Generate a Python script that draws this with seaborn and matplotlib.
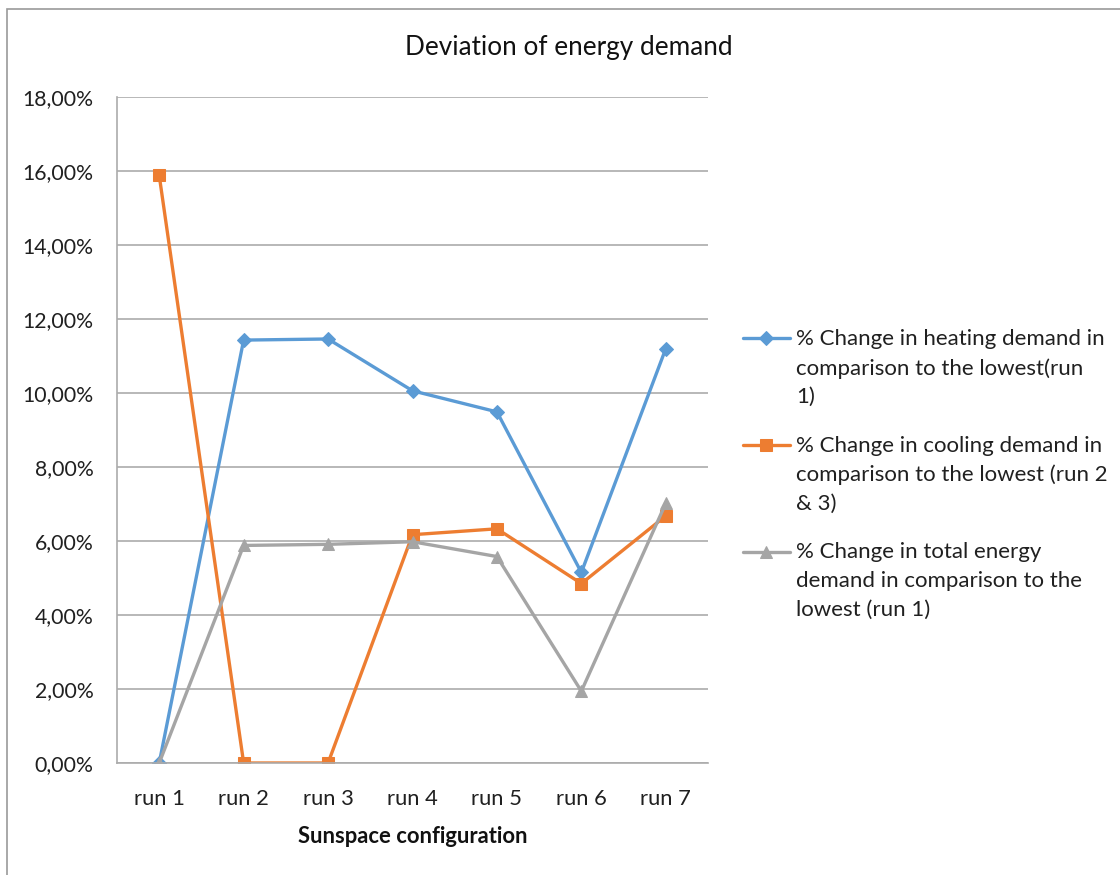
import matplotlib
matplotlib.use("Agg")
import matplotlib.pyplot as plt
import seaborn as sns
import pandas as pd
from matplotlib.ticker import FuncFormatter, MultipleLocator
from matplotlib.patches import Rectangle

# Sunspace configurations and percentage deviations
runs = ["run 1", "run 2", "run 3", "run 4", "run 5", "run 6", "run 7"]
heating = [0.00, 11.43, 11.46, 10.06, 9.49, 5.15, 11.20]
cooling = [15.88, 0.00, 0.00, 6.17, 6.33, 4.85, 6.68]
total = [0.00, 5.88, 5.91, 5.98, 5.58, 1.94, 7.02]

labels = [
    "% Change in heating demand in\ncomparison to the lowest(run\n1)",
    "% Change in cooling demand in\ncomparison to the lowest (run 2\n& 3)",
    "% Change in total energy\ndemand in comparison to the\nlowest (run 1)",
]
colors = ["#5B9BD5", "#ED7D31", "#A5A5A5"]
markers = ["D", "s", "^"]
msizes = [6.8, 8.0, 8.4]

sns.set_theme(style="white")
plt.rcParams["font.family"] = ["Lato", "DejaVu Sans"]

fig = plt.figure(figsize=(11.2, 8.75), dpi=100)
ax = fig.add_axes([117 / 1120, 1 - 763 / 875, (708 - 117) / 1120, (763 - 97) / 875])

df = pd.DataFrame({"run": runs, "heating": heating, "cooling": cooling, "total": total})
for col, lab, c, m, ms in zip(["heating", "cooling", "total"], labels, colors, markers, msizes):
    sns.lineplot(data=df, x="run", y=col, ax=ax, color=c, marker=m, markersize=ms,
                 markeredgecolor=c, linewidth=2.4, sort=False, label=lab)

ax.set_xlim(-0.5, 6.5)
ax.set_ylim(0, 18)
ax.yaxis.set_major_locator(MultipleLocator(2))
ax.yaxis.set_major_formatter(FuncFormatter(lambda v, p: f"{v:.2f}%".replace(".", ",")))

grid_c = "#ABABAB"
ax.grid(axis="y", color=grid_c, linewidth=1.2)
ax.grid(axis="x", visible=False)
ax.set_axisbelow(True)
for s in ["top", "right"]:
    ax.spines[s].set_visible(False)
for s in ["left", "bottom"]:
    ax.spines[s].set_color(grid_c)
    ax.spines[s].set_linewidth(1.2)

ax.tick_params(axis="y", length=0, pad=17, labelsize=15.3, labelcolor="#202020")
ax.tick_params(axis="x", length=0, pad=19, labelsize=15.8, labelcolor="#202020")
ax.set_ylabel("")
ax.set_xlabel("Sunspace configuration", fontsize=15.8, fontweight="bold",
              color="#111111", labelpad=12)

fig.text(569 / 1120, 1 - 47 / 875, "Deviation of energy demand", ha="center", va="center",
         fontsize=18.8, color="#111111")

h, l = ax.get_legend_handles_labels()
ax.get_legend().remove()
leg = fig.legend(h, l, loc="upper left", bbox_to_anchor=(743 / 1120, 1 - 329 / 875),
                 frameon=False, fontsize=16, handlelength=2.1, handletextpad=0.3,
                 labelspacing=1.28, borderpad=0, borderaxespad=0, handleheight=1.2,
                 labelcolor="#202020")
for t in leg.get_texts():
    t.set_linespacing(1.54)
for column in leg._legend_handle_box.get_children():
    for item in column.get_children():
        item.align = "top"

# outer chart frame
fig.patches.append(Rectangle((7 / 1120, -0.2), 2.0, 1.2 - 9 / 875,
                             transform=fig.transFigure, fill=False,
                             edgecolor="#9A9A9A", linewidth=1.2))

fig.savefig("out.png", dpi=100)
